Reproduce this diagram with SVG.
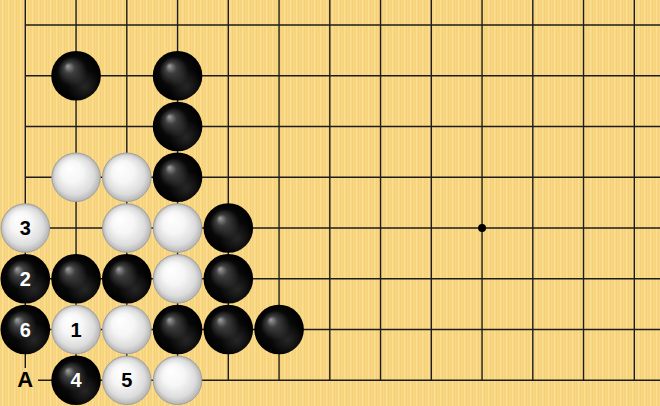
<svg xmlns="http://www.w3.org/2000/svg" width="660" height="406" viewBox="0 0 660 406">
  <defs>
    <pattern id="wood" patternUnits="userSpaceOnUse" x="0" y="0" width="6" height="10">
      <rect width="6" height="10" fill="#F9D886"/>
      <rect x="0" width="1.5" height="10" fill="#F6D27A"/>
      <rect x="2" width="1" height="10" fill="#FBDE93"/>
      <rect x="4" width="1" height="10" fill="#F5CF74"/>
    </pattern>
    <radialGradient id="gBlack" cx="0.5" cy="0.5" r="0.5" fx="0.33" fy="0.3">
      <stop offset="0" stop-color="#a0a0a0"/>
      <stop offset="0.22" stop-color="#404040"/>
      <stop offset="0.6" stop-color="#080808"/>
      <stop offset="1" stop-color="#000"/>
    </radialGradient>
    <radialGradient id="gBlackRefl" cx="0.68" cy="0.72" r="0.35">
      <stop offset="0" stop-color="#fff" stop-opacity="0.13"/>
      <stop offset="1" stop-color="#fff" stop-opacity="0"/>
    </radialGradient>
    <radialGradient id="gWhite" cx="0.5" cy="0.5" r="0.5" fx="0.35" fy="0.3">
      <stop offset="0" stop-color="#ffffff"/>
      <stop offset="0.45" stop-color="#f6f6f6"/>
      <stop offset="0.8" stop-color="#dcdcdc"/>
      <stop offset="1" stop-color="#b4b4b4"/>
    </radialGradient>
    <g id="bs">
      <circle r="24.8" fill="url(#gBlack)"/>
      <circle r="24.8" fill="url(#gBlackRefl)"/>
    </g>
    <g id="ws">
      <circle r="24.3" fill="url(#gWhite)" stroke="#9d9d9d" stroke-width="0.9"/>
    </g>
  </defs>
  <style>
    .grid line { stroke: #1c1c1c; stroke-width: 1.4; }
    .lb { font-family: "Liberation Sans", Arial, sans-serif; font-weight: bold; font-size: 20px; text-anchor: middle; }
    .onb { fill: #ffffff; }
    .onw { fill: #000000; }
  </style>

  <rect width="660" height="406" fill="url(#wood)"/>

  <g id="grid" class="grid">
    <line x1="25.3" y1="0" x2="25.3" y2="380.25"/>
    <line x1="76.05" y1="0" x2="76.05" y2="380.25"/>
    <line x1="126.8" y1="0" x2="126.8" y2="380.25"/>
    <line x1="177.55" y1="0" x2="177.55" y2="380.25"/>
    <line x1="228.3" y1="0" x2="228.3" y2="380.25"/>
    <line x1="279.05" y1="0" x2="279.05" y2="380.25"/>
    <line x1="329.8" y1="0" x2="329.8" y2="380.25"/>
    <line x1="380.55" y1="0" x2="380.55" y2="380.25"/>
    <line x1="431.3" y1="0" x2="431.3" y2="380.25"/>
    <line x1="482.05" y1="0" x2="482.05" y2="380.25"/>
    <line x1="532.8" y1="0" x2="532.8" y2="380.25"/>
    <line x1="583.55" y1="0" x2="583.55" y2="380.25"/>
    <line x1="634.3" y1="0" x2="634.3" y2="380.25"/>
    <line x1="25.3" y1="25" x2="660" y2="25"/>
    <line x1="25.3" y1="75.75" x2="660" y2="75.75"/>
    <line x1="25.3" y1="126.5" x2="660" y2="126.5"/>
    <line x1="25.3" y1="177.25" x2="660" y2="177.25"/>
    <line x1="25.3" y1="228" x2="660" y2="228"/>
    <line x1="25.3" y1="278.75" x2="660" y2="278.75"/>
    <line x1="25.3" y1="329.5" x2="660" y2="329.5"/>
    <line x1="25.3" y1="380.25" x2="660" y2="380.25"/>
    <circle cx="482.05" cy="228" r="4" fill="#000"/>
  </g>

  <g id="stones">
    <g id="b-1-1"><use href="#bs" x="76.05" y="75.75"/></g>
    <g id="b-3-1"><use href="#bs" x="177.55" y="75.75"/></g>
    <g id="b-3-2"><use href="#bs" x="177.55" y="126.5"/></g>
    <g id="b-3-3"><use href="#bs" x="177.55" y="177.25"/></g>
    <g id="w-1-3"><use href="#ws" x="76.05" y="177.25"/></g>
    <g id="w-2-3"><use href="#ws" x="126.8" y="177.25"/></g>
    <g id="w3"><use href="#ws" x="25.3" y="228"/><text class="lb onw" x="25.3" y="235">3</text></g>
    <g id="w-2-4"><use href="#ws" x="126.8" y="228"/></g>
    <g id="w-3-4"><use href="#ws" x="177.55" y="228"/></g>
    <g id="b-4-4"><use href="#bs" x="228.3" y="228"/></g>
    <g id="b2"><use href="#bs" x="25.3" y="278.75"/><text class="lb onb" x="25.3" y="285.75">2</text></g>
    <g id="b-1-5"><use href="#bs" x="76.05" y="278.75"/></g>
    <g id="b-2-5"><use href="#bs" x="126.8" y="278.75"/></g>
    <g id="w-3-5"><use href="#ws" x="177.55" y="278.75"/></g>
    <g id="b-4-5"><use href="#bs" x="228.3" y="278.75"/></g>
    <g id="b6"><use href="#bs" x="25.3" y="329.5"/><text class="lb onb" x="25.3" y="336.5">6</text></g>
    <g id="w1"><use href="#ws" x="76.05" y="329.5"/><text class="lb onw" x="76.05" y="336.5">1</text></g>
    <g id="w-2-6"><use href="#ws" x="126.8" y="329.5"/></g>
    <g id="b-3-6"><use href="#bs" x="177.55" y="329.5"/></g>
    <g id="b-4-6"><use href="#bs" x="228.3" y="329.5"/></g>
    <g id="b-5-6"><use href="#bs" x="279.05" y="329.5"/></g>
    <g id="b4"><use href="#bs" x="76.05" y="380.25"/><text class="lb onb" x="76.05" y="387.25">4</text></g>
    <g id="w5"><use href="#ws" x="126.8" y="380.25"/><text class="lb onw" x="126.8" y="387.25">5</text></g>
    <g id="w-3-7"><use href="#ws" x="177.55" y="380.25"/></g>
  </g>

  <g id="labelA">
    <rect x="12" y="368" width="26" height="14" fill="url(#wood)"/>
    <text class="lb" x="25.3" y="387" style="font-size:22px" fill="#000">A</text>
  </g>
</svg>
